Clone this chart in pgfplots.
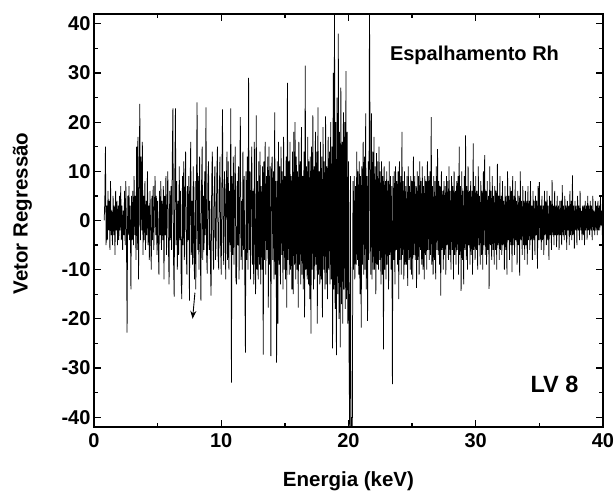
\documentclass[border=0pt]{standalone}
\usepackage{pgfplots}
\pgfplotsset{compat=1.18}
\usepackage{fontspec}
\setmainfont{Liberation Sans}
\usetikzlibrary{calc,arrows.meta}
\begin{document}
\begin{tikzpicture}
\begin{axis}[
  name=ax,
  width=509pt, height=413pt, scale only axis,
  xmin=0, xmax=40, ymin=-42, ymax=42,
  xtick={0,10,20,30,40}, ytick={-40,-30,-20,-10,0,10,20,30,40},
  minor x tick num=1, minor y tick num=1,
  tick align=inside,
  major tick length=7pt, minor tick length=4pt,
  every tick/.style={line width=1.3pt, black},
  axis line style={line width=2pt},
  /pgf/number format/assume math mode=true,
  tick label style={font=\bfseries\fontsize{20}{24}\selectfont},
  xticklabel style={yshift=-3pt},
  xlabel={Energia (keV)},
  ylabel={Vetor Regressão},
  label style={font=\bfseries\fontsize{20.5}{24}\selectfont},
  xlabel style={at={(axis description cs:0.5,-0.1453)}, anchor=base},
  ylabel style={at={(axis description cs:-0.1405,0.517)}, anchor=center},
  clip=true,
]
\addplot[black, line width=0.75pt, sharp plot, mark=none] coordinates {
(0.80,0) (0.85,4) (0.90,15) (0.95,-5)
(1.00,3) (1.05,-4) (1.10,6) (1.15,-2) (1.20,4) (1.25,-6) (1.30,8) (1.35,-3) (1.40,2) (1.45,-5) (1.50,5) (1.55,-3) (1.60,3) (1.65,-7) (1.70,6) (1.75,-2) (1.80,4) (1.85,-5) (1.90,3) (1.95,-4)
(2.00,5) (2.05,-2) (2.10,7) (2.15,-4) (2.20,3) (2.25,-6) (2.30,2) (2.35,-3) (2.40,6) (2.45,-5) (2.50,8) (2.55,-3) (2.60,-22.8) (2.65,5) (2.70,-3) (2.75,7) (2.80,-4) (2.85,3) (2.90,-14) (2.95,5)
(3.00,-4) (3.05,6) (3.10,-5) (3.15,9) (3.20,-3) (3.25,5) (3.30,-8) (3.35,15) (3.40,-6) (3.45,17) (3.50,-12) (3.55,8) (3.60,23.7) (3.65,-4) (3.70,13) (3.75,-2) (3.80,16) (3.85,-7) (3.90,5) (3.95,-4)
(4.00,8) (4.05,-6) (4.10,4) (4.15,-3) (4.20,10) (4.25,-5) (4.30,3) (4.35,-8) (4.40,6) (4.45,-2) (4.50,-10) (4.55,5) (4.60,-4) (4.65,7) (4.70,-6) (4.75,3) (4.80,9) (4.85,-3) (4.90,5) (4.95,-7)
(5.00,4) (5.05,-5) (5.10,-11) (5.15,6) (5.20,-3) (5.25,8) (5.30,-6) (5.35,4) (5.40,-4) (5.45,7) (5.50,-12) (5.55,5) (5.60,-3) (5.65,9) (5.70,-7) (5.75,3) (5.80,10) (5.85,-5) (5.90,-13) (5.95,6)
(6.00,-4) (6.05,7) (6.10,-6) (6.15,12) (6.20,22.8) (6.25,-8) (6.30,-15.5) (6.35,9) (6.40,22.8) (6.45,-5) (6.50,8) (6.55,-10) (6.60,4) (6.65,-7) (6.70,11) (6.75,-4) (6.80,6) (6.85,-12) (6.90,-16) (6.95,9)
(7.00,-5) (7.05,12) (7.10,-8) (7.15,5) (7.20,14) (7.25,-6) (7.30,-11) (7.35,7) (7.40,-4) (7.45,9) (7.50,-16.3) (7.55,6) (7.60,16) (7.65,-7) (7.70,4) (7.75,-9) (7.80,11) (7.85,-5) (7.90,-12) (7.95,8)
(8.00,-14) (8.05,6) (8.10,24) (8.15,-6) (8.20,9) (8.25,-10) (8.30,13) (8.35,-4) (8.40,-16.3) (8.45,7) (8.50,15) (8.55,-8) (8.60,5) (8.65,-6) (8.70,10) (8.75,-3) (8.80,23) (8.85,-7) (8.90,-10.8) (8.95,8)
(9.00,12) (9.05,-6) (9.10,4) (9.15,-9) (9.20,-15.3) (9.25,8) (9.30,14) (9.35,-5) (9.40,-10) (9.45,6) (9.50,11) (9.55,-8) (9.60,-4) (9.65,9) (9.70,15) (9.75,-7) (9.80,-10) (9.85,6) (9.90,13) (9.95,-5)
(10.00,-11) (10.05,8) (10.10,22.6) (10.15,-6) (10.20,-9) (10.25,10) (10.30,5) (10.35,-12) (10.40,7) (10.45,14) (10.50,-8) (10.55,12) (10.60,-10) (10.65,6) (10.70,-5) (10.75,22.8) (10.80,-33) (10.85,9) (10.90,-7) (10.95,13)
(11.00,-9) (11.05,6) (11.10,15) (11.15,-12) (11.20,-13) (11.25,8) (11.30,-5) (11.35,11) (11.40,-12) (11.45,7) (11.50,21) (11.55,-8) (11.60,4) (11.65,-10) (11.70,14) (11.75,-6) (11.80,9) (11.85,-11) (11.90,-26.9) (11.95,10)
(12.00,-8) (12.05,13) (12.10,-10) (12.15,29) (12.20,-6) (12.25,10) (12.30,-12) (12.35,7) (12.40,15) (12.45,-9) (12.50,6) (12.55,-13) (12.60,16) (12.65,-7) (12.70,-15) (12.75,21.4) (12.80,-10) (12.85,8) (12.90,-12) (12.95,12)
(13.00,-9) (13.05,14) (13.10,-13) (13.15,7) (13.20,-10) (13.25,11) (13.30,-27.3) (13.35,12) (13.40,-8) (13.45,16) (13.50,-11) (13.55,9) (13.60,-6) (13.65,13) (13.70,-17.7) (13.75,15) (13.80,-9) (13.85,11) (13.90,-27.6) (13.95,10)
(14.00,13) (14.05,-8) (14.10,10) (14.15,-12) (14.20,22) (14.25,-11) (14.30,8) (14.35,-28.9) (14.40,12) (14.45,-21) (14.50,16) (14.55,-9) (14.60,11) (14.65,-13) (14.70,15) (14.75,-7) (14.80,10) (14.85,-14) (14.90,17) (14.95,-10)
(15.00,9) (15.05,-12) (15.10,13) (15.15,-17.7) (15.20,28) (15.25,-8) (15.30,12) (15.35,-11) (15.40,16) (15.45,-10) (15.50,9) (15.55,-14) (15.60,14) (15.65,-15) (15.70,18) (15.75,-9) (15.80,20) (15.85,-12) (15.90,13) (15.95,-10)
(16.00,10) (16.05,-17.7) (16.10,16) (16.15,-9) (16.20,12) (16.25,-13) (16.30,19) (16.35,-11) (16.40,9) (16.45,-14) (16.50,14) (16.55,-19.7) (16.60,31.5) (16.65,-10) (16.70,11) (16.75,-12) (16.80,17) (16.85,-13) (16.90,12) (16.95,-16)
(17.00,13) (17.05,-23) (17.10,15) (17.15,-10) (17.20,21.4) (17.25,-14) (17.30,11) (17.35,-12) (17.40,18) (17.45,-9) (17.50,14) (17.55,-21) (17.60,23) (17.65,-11) (17.70,10) (17.75,-13) (17.80,16) (17.85,-12) (17.90,13) (17.95,-19.7)
(18.00,19) (18.05,-10) (18.10,12) (18.15,-14) (18.20,21.2) (18.25,-13) (18.30,11) (18.35,-16) (18.40,17) (18.45,-10) (18.50,14) (18.55,-13) (18.60,20) (18.65,-12) (18.70,15) (18.75,-26) (18.80,30) (18.85,-14) (18.90,45) (18.95,-18)
(19.00,20) (19.05,-27.4) (19.10,25) (19.15,-15) (19.20,38) (19.25,-20) (19.30,18) (19.35,-25.8) (19.40,27) (19.45,-17) (19.50,16) (19.55,-21) (19.60,22) (19.65,-14) (19.70,20) (19.75,-18) (19.80,30.4) (19.85,-16) (19.90,18) (19.95,-21)
(20.00,12) (20.05,-29.6) (20.10,-45) (20.15,9) (20.20,-45) (20.25,-40) (20.30,-45) (20.35,8) (20.40,-10) (20.45,9) (20.50,-12) (20.55,7) (20.60,-9) (20.65,14) (20.70,-8) (20.75,10) (20.80,-11) (20.85,12) (20.90,-15) (20.95,9)
(21.00,-21.8) (21.05,11) (21.10,-9) (21.15,16) (21.20,-11) (21.25,13) (21.30,-10) (21.35,21.8) (21.40,-14) (21.45,9) (21.50,-20.4) (21.55,12) (21.60,-8) (21.65,45) (21.70,10) (21.75,-11) (21.80,21.8) (21.85,-12) (21.90,14) (21.95,-10)
(22.00,17) (22.05,-10) (22.10,11) (22.15,-15) (22.20,13.7) (22.25,-9) (22.30,12) (22.35,-10) (22.40,15) (22.45,-8) (22.50,10) (22.55,-13) (22.60,12) (22.65,-11) (22.70,9) (22.75,-26.2) (22.80,11) (22.85,-10) (22.90,8) (22.95,-12)
(23.00,10) (23.05,-9) (23.10,8) (23.15,-14) (23.20,12) (23.25,-7) (23.30,9) (23.35,-10) (23.40,7) (23.45,-33.3) (23.50,9) (23.55,-8) (23.60,10) (23.65,-13) (23.70,11) (23.75,-6) (23.80,8) (23.85,-9) (23.90,10) (23.95,-16)
(24.00,12) (24.05,-8) (24.10,9) (24.15,-11) (24.20,18) (24.25,-7) (24.30,8) (24.35,-12) (24.40,10) (24.45,-9) (24.50,7) (24.55,-9) (24.60,9) (24.65,-13.3) (24.70,11) (24.75,-8) (24.80,7) (24.85,-10) (24.90,9) (24.95,-11)
(25.00,8) (25.05,-12) (25.10,13) (25.15,-7) (25.20,9) (25.25,-8) (25.30,7) (25.35,-13.7) (25.40,10) (25.45,-8) (25.50,9) (25.55,-11) (25.60,12) (25.65,-6) (25.70,8) (25.75,-9) (25.80,11) (25.85,-10) (25.90,7) (25.95,-12)
(26.00,9) (26.05,-7) (26.10,8) (26.15,-10) (26.20,12) (26.25,-6) (26.30,9) (26.35,-8) (26.40,10) (26.45,-7) (26.50,21) (26.55,-9) (26.60,7) (26.65,-11) (26.70,9) (26.75,-8) (26.80,8) (26.85,-12) (26.90,11) (26.95,-6)
(27.00,14.5) (27.05,-7) (27.10,8) (27.15,-9) (27.20,7) (27.25,-15.3) (27.30,10) (27.35,-6) (27.40,6) (27.45,-10) (27.50,8) (27.55,-7) (27.60,7) (27.65,-11) (27.70,9) (27.75,-5) (27.80,8) (27.85,-8) (27.90,11) (27.95,-7)
(28.00,6) (28.05,-10) (28.10,9) (28.15,-6) (28.20,7) (28.25,-12) (28.30,10) (28.35,-7) (28.40,6) (28.45,-9) (28.50,8) (28.55,-6) (28.60,9) (28.65,-11) (28.70,15) (28.75,-7) (28.80,7) (28.85,-14.3) (28.90,10) (28.95,-8)
(29.00,6) (29.05,-13) (29.10,9) (29.15,-6) (29.20,17.3) (29.25,-8) (29.30,7) (29.35,-10) (29.40,11) (29.45,-5) (29.50,6) (29.55,-9) (29.60,8) (29.65,-7) (29.70,6) (29.75,-11) (29.80,15.7) (29.85,-6) (29.90,7) (29.95,-8)
(30.00,9) (30.05,-6) (30.10,6) (30.15,-10) (30.20,11) (30.25,-5) (30.30,5) (30.35,-9) (30.40,8) (30.45,-7) (30.50,6) (30.55,-10) (30.60,10) (30.65,-5) (30.70,13.3) (30.75,-7) (30.80,6) (30.85,-9) (30.90,8) (30.95,-6)
(31.00,5) (31.05,-13.9) (31.10,11) (31.15,-5) (31.20,6) (31.25,-8) (31.30,9) (31.35,-6) (31.40,5) (31.45,-9) (31.50,7) (31.55,-6) (31.60,6) (31.65,-10) (31.70,11.5) (31.75,-5) (31.80,5) (31.85,-8) (31.90,9) (31.95,-6)
(32.00,5) (32.05,-7) (32.10,8) (32.15,-5) (32.20,4) (32.25,-10) (32.30,7) (32.35,-6) (32.40,5) (32.45,-11) (32.50,10) (32.55,-4) (32.60,5) (32.65,-8) (32.70,7) (32.75,-5) (32.80,6) (32.85,-10.5) (32.90,9) (32.95,-5)
(33.00,5) (33.05,-7) (33.10,8) (33.15,-4) (33.20,4) (33.25,-9) (33.30,6) (33.35,-5) (33.40,5) (33.45,-11.2) (33.50,10) (33.55,-4) (33.60,4) (33.65,-7) (33.70,7) (33.75,-5) (33.80,4) (33.85,-8) (33.90,6) (33.95,-5)
(34.00,4) (34.05,-9) (34.10,7) (34.15,-4) (34.20,4) (34.25,-6) (34.30,8) (34.35,-4) (34.40,3) (34.45,-8) (34.50,6) (34.55,-4) (34.60,4) (34.65,-7) (34.70,5) (34.75,-3) (34.80,4) (34.85,-9.8) (34.90,7) (34.95,-4)
(35.00,7.8) (35.05,-4) (35.10,3) (35.15,-6) (35.20,5) (35.25,-4) (35.30,3) (35.35,-7) (35.40,6) (35.45,-3) (35.50,4) (35.55,-5) (35.60,6) (35.65,-4) (35.70,3) (35.75,-8) (35.80,5) (35.85,-3) (35.90,4) (35.95,-6)
(36.00,8.2) (36.05,-3) (36.10,3) (36.15,-5) (36.20,6) (36.25,-3) (36.30,3) (36.35,-5.4) (36.40,5) (36.45,-3) (36.50,3) (36.55,-6) (36.60,4) (36.65,-3) (36.70,4) (36.75,-5) (36.80,7.2) (36.85,-3) (36.90,3) (36.95,-4)
(37.00,5) (37.05,-3) (37.10,3) (37.15,-6) (37.20,4) (37.25,-2) (37.30,3) (37.35,-5) (37.40,6) (37.45,-3) (37.50,4) (37.55,-4) (37.60,9.2) (37.65,-3) (37.70,3) (37.75,-5.7) (37.80,4) (37.85,-2) (37.90,3) (37.95,-5)
(38.00,5) (38.05,-2) (38.10,3) (38.15,-4) (38.20,6) (38.25,-2) (38.30,2) (38.35,-4) (38.40,3) (38.45,-3) (38.50,3) (38.55,-5) (38.60,4) (38.65,-2) (38.70,3) (38.75,-3.9) (38.80,5) (38.85,-2) (38.90,3) (38.95,-3)
(39.00,4) (39.05,-2) (39.10,3) (39.15,-4) (39.20,5) (39.25,-2) (39.30,2) (39.35,-3) (39.40,4) (39.45,-2) (39.50,3) (39.55,-3) (39.60,4) (39.65,-2) (39.70,3) (39.75,-2) (39.80,5) (39.85,-1) (39.90,2) (39.95,-3) (40.00,2)
};
\draw[line width=0.9pt, -{Stealth[length=8pt,width=6pt]}] (axis cs:7.93,-14.7) -- (axis cs:7.75,-20.0);
\node[font=\bfseries\fontsize{20}{24}\selectfont, anchor=base] at (axis description cs:0.7475,0.8886) {Espalhamento Rh};
\node[font=\bfseries\fontsize{23.5}{28}\selectfont, anchor=center, inner sep=0pt] at (axis description cs:0.9047,0.1029) {LV 8};
\end{axis}
\pgfresetboundingbox
\path ($(ax.south west)+(-94pt,-64pt)$) rectangle ($(ax.north east)+(13pt,14pt)$);
\end{tikzpicture}
\end{document}
